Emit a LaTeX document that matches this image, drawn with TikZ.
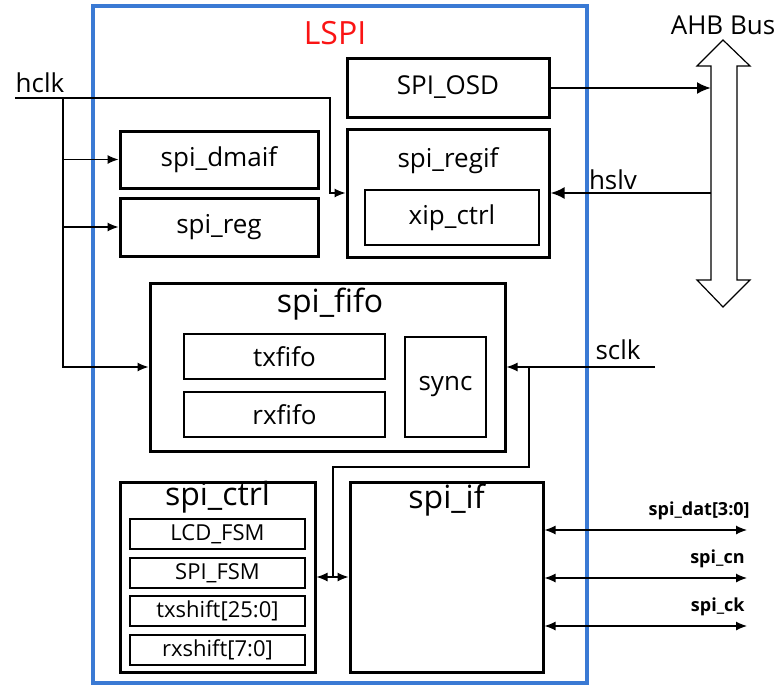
\documentclass[tikz,border=0pt]{standalone}
\usepackage{fontspec}
\setmainfont{Open Sans}
\usepackage{xcolor}
\usetikzlibrary{arrows.meta, positioning, calc}
\definecolor{lspiblue}{RGB}{58,122,212}
\definecolor{lspired}{RGB}{250,20,20}

\begin{document}
\begin{tikzpicture}[x=0.5pt, y=-0.5pt,
    blk/.style={rectangle, draw=black, line width=1.5pt, inner sep=0pt, align=center,
                font=\fontsize{13}{15}\selectfont},
    sub/.style={rectangle, draw=black, line width=0.75pt, inner sep=0pt, align=center,
                font=\fontsize{13}{15}\selectfont},
    tiny/.style={rectangle, draw=black, line width=0.75pt, inner sep=0pt, align=center,
                 minimum width=87.5pt, minimum height=15pt, font=\fontsize{11}{13}\selectfont},
    ttl/.style={inner sep=0pt, font=\fontsize{16}{18}\selectfont},
    lbl/.style={inner sep=0pt, font=\fontsize{13}{15}\selectfont},
    sig/.style={line width=0.6pt, -{Latex[length=5.5pt, width=4.5pt]}},
    bisig/.style={line width=0.6pt, {Latex[length=5.5pt, width=4.5pt]}-{Latex[length=5.5pt, width=4.5pt]}},
    bus/.style={line width=1.2pt, -{Latex[length=7pt, width=6pt]}},
    pin/.style={inner sep=0pt, font=\fontsize{9}{10}\selectfont\bfseries}
]
\useasboundingbox (0,0) rectangle (779,685);

% LSPI frame
\draw[lspiblue, line width=2pt] (93,6) rectangle (587,683);
\node[ttl, text=lspired] (lspi) at (335,33) {LSPI};

% register side
\node[blk, minimum width=101pt, minimum height=29.5pt] (osd) at (448,87.5) {SPI\_OSD};
\node[blk, minimum width=101pt, minimum height=64pt] (regif) at (448,193) {};
\node[lbl] (regiflbl) at (448,161) {spi\_regif};
\node[sub, minimum width=87pt, minimum height=27.5pt] (xip) at (452,217.5) {xip\_ctrl};
\node[blk, minimum width=99pt, minimum height=28.5pt] (dmaif) at (219,159.5) {spi\_dmaif};
\node[blk, minimum width=99pt, minimum height=29pt] (reg) at (219,227) {spi\_reg};

% fifo
\node[blk, minimum width=177.5pt, minimum height=84pt] (fifo) at (327.5,367) {};
\node[ttl] (fifolbl) at (330,304) {spi\_fifo};
\node[sub, minimum width=100.5pt, minimum height=22.5pt] (txfifo) at (284.5,356.5) {txfifo};
\node[sub, minimum width=100.5pt, minimum height=22.5pt] (rxfifo) at (284.5,414.5) {rxfifo};
\node[sub, minimum width=40.5pt, minimum height=50pt] (sync) at (445.5,387) {sync};

% ctrl and if
\node[blk, minimum width=97.5pt, minimum height=95pt] (ctrl) at (217.5,577) {};
\node[ttl] (ctrllbl) at (217.5,497) {spi\_ctrl};
\node[tiny] (lcd) at (217.5,534) {LCD\_FSM};
\node[tiny] (spifsm) at (217.5,573) {SPI\_FSM};
\node[tiny] (txsh) at (217.5,611) {txshift[25:0]};
\node[tiny] (rxsh) at (217.5,650) {rxshift[7:0]};
\node[blk, minimum width=96.5pt, minimum height=95pt] (spiif) at (446.5,577) {};
\node[ttl] (spiiflbl) at (446.5,500) {spi\_if};

% AHB bus
\draw[line width=0.6pt] (723,40) -- (750,66) -- (737,66) -- (737,280) -- (750,280)
  -- (723,307) -- (697,280) -- (711,280) -- (711,66) -- (697,66) -- cycle;
\node[lbl] (ahb) at (723,25) {AHB Bus};
\coordinate (busosd) at (711,88);
\coordinate (bushslv) at (711,193);
\draw[bus] (osd.east |- busosd) -- (busosd);
\draw[bus] (bushslv) -- (regif.east |- bushslv);
\node[lbl] (hslv) at (613,180) {hslv};

% hclk
\coordinate (hclkin) at (15,98);
\coordinate (hclkbr) at (63,98);
\coordinate (hclkturn) at (330,98);
\node[lbl] (hclk) at (40,83) {hclk};
\draw[sig] (hclkin) -- (hclkturn) |- (regif.west);
\draw[sig] (hclkbr) |- (dmaif.west);
\draw[sig] (hclkbr) |- (reg.west);
\draw[sig] (hclkbr) |- (fifo.west);

% sclk
\coordinate (sclkin) at (655,367);
\coordinate (sclkbr) at (529,367);
\coordinate (sclkdn) at (333,467);
\node[lbl] (sclk) at (618,350) {sclk};
\draw[sig] (sclkin) -- (fifo.east);
\draw[line width=0.6pt] (sclkbr) |- (sclkdn) -- (sclkdn |- ctrl.east);
\draw[bisig] (ctrl.east) -- (spiif.west);

% pins
\coordinate (datout) at (747,530);
\coordinate (cnout) at (747,578);
\coordinate (ckout) at (747,626);
\draw[bisig] (spiif.east |- datout) -- (datout);
\draw[bisig] (spiif.east |- cnout) -- (cnout);
\draw[bisig] (spiif.east |- ckout) -- (ckout);
\node[pin, anchor=south east] (datlbl) at (750,520) {spi\_dat[3:0]};
\node[pin, anchor=south east] (cnlbl) at (745,568) {spi\_cn};
\node[pin, anchor=south east] (cklbl) at (745,616) {spi\_ck};
\end{tikzpicture}
\end{document}
